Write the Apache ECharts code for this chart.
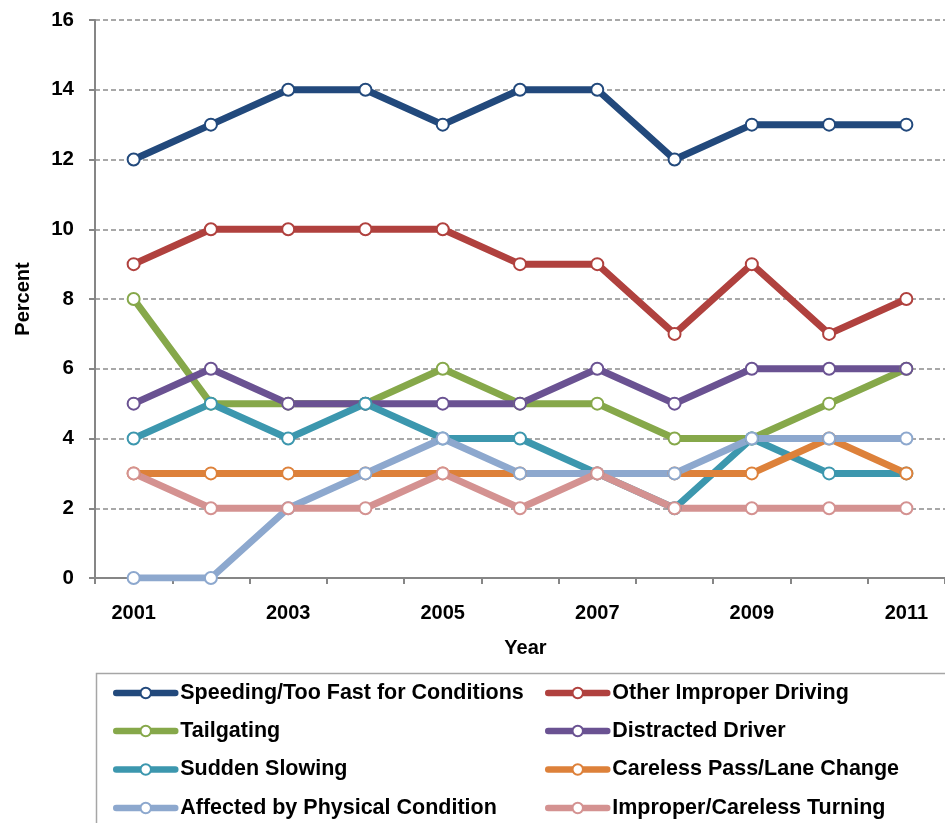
<!DOCTYPE html>
<html>
<head>
<meta charset="utf-8">
<script src="https://cdn.jsdelivr.net/npm/echarts@6/dist/echarts.min.js"></script>
<style>
  html, body { margin: 0; padding: 0; background: #fff; }
  #chart { width: 945px; height: 823px; }
</style>
</head>
<body>
<div id="chart"></div>
<script>
// Years on the x axis
const years = ['2001', '2002', '2003', '2004', '2005', '2006', '2007', '2008', '2009', '2010', '2011'];

// Share of crashes by contributing factor, percent
const speeding      = [12, 13, 14, 14, 13, 14, 14, 12, 13, 13, 13];
const otherImproper = [9, 10, 10, 10, 10, 9, 9, 7, 9, 7, 8];
const tailgating    = [8, 5, 5, 5, 6, 5, 5, 4, 4, 5, 6];
const distracted    = [5, 6, 5, 5, 5, 5, 6, 5, 6, 6, 6];
const suddenSlowing = [4, 5, 4, 5, 4, 4, 3, 2, 4, 3, 3];
const carelessPass  = [3, 3, 3, 3, 3, 3, 3, 3, 3, 4, 3];
const physicalCond  = [0, 0, 2, 3, 4, 3, 3, 3, 4, 4, 4];
const improperTurn  = [3, 2, 2, 2, 3, 2, 3, 2, 2, 2, 2];

const seriesNames = [
  'Speeding/Too Fast for Conditions',
  'Other Improper Driving',
  'Tailgating',
  'Distracted Driver',
  'Sudden Slowing',
  'Careless Pass/Lane Change',
  'Affected by Physical Condition',
  'Improper/Careless Turning'
];
const seriesValues = [speeding, otherImproper, tailgating, distracted,
                      suddenSlowing, carelessPass, physicalCond, improperTurn];
const colors = ['#22497c', '#b0413e', '#86a84a', '#6a5292',
                '#3c97ae', '#dd813a', '#8da8ce', '#d49291'];

const font = '"Liberation Sans", Arial, sans-serif';
const gray = '#868686';
const LINE_W = 7;

const chart = echarts.init(document.getElementById('chart'), null, { renderer: 'canvas' });

const series = seriesNames.map((name, i) => ({
  name: name,
  type: 'line',
  data: seriesValues[i],
  color: colors[i],
  symbol: 'circle',
  symbolSize: 12,
  showAllSymbol: true,
  lineStyle: { width: LINE_W, color: colors[i], cap: 'round', join: 'round' },
  itemStyle: { color: '#ffffff', borderColor: colors[i], borderWidth: 2 },
  emphasis: { disabled: true },
  animation: false
}));

// Legend: two columns of four entries inside a framed box below the plot
const legendText = { fontFamily: font, fontSize: 21.5, fontWeight: 'bold', color: '#000' };
const colLeft = [113, 545];
const rowCenter = [693, 731, 769.5, 808];
const legends = seriesNames.map((name, i) => ({
  data: [name],
  orient: 'horizontal',
  left: colLeft[i % 2],
  top: rowCenter[Math.floor(i / 2)] - 11,
  padding: 0,
  itemWidth: 59, itemHeight: 13,
  lineStyle: { width: 6.5 },
  itemStyle: { borderWidth: 2 },
  textStyle: legendText,
  selectedMode: false
}));

chart.setOption({
  backgroundColor: '#ffffff',
  animation: false,
  grid: { left: 95, top: 20, width: 859, height: 558, containLabel: false },
  legend: legends,
  graphic: [
    {
      type: 'rect',
      shape: { x: 96.5, y: 673.5, width: 900, height: 200 },
      style: { fill: 'none', stroke: '#a6a6a6', lineWidth: 1.5 },
      silent: true
    }
  ],
  xAxis: {
    type: 'category',
    data: years,
    boundaryGap: true,
    name: 'Year',
    nameLocation: 'middle',
    nameGap: 60,
    nameTextStyle: { fontFamily: font, fontSize: 20, fontWeight: 'bold', color: '#000', padding: [0, 0, 0, 11] },
    axisLine: { lineStyle: { color: gray, width: 2 } },
    axisTick: { show: true, interval: 0, length: 6, lineStyle: { color: gray, width: 2 } },
    axisLabel: { interval: 1, margin: 25, fontFamily: font, fontSize: 20, fontWeight: 'bold', color: '#000' },
    splitLine: { show: false }
  },
  yAxis: {
    type: 'value',
    min: 0, max: 16, interval: 2,
    name: 'Percent',
    nameLocation: 'middle',
    nameGap: 62,
    nameRotate: 90,
    nameTextStyle: { fontFamily: font, fontSize: 20, fontWeight: 'bold', color: '#000' },
    axisLine: { show: true, lineStyle: { color: gray, width: 2 } },
    axisTick: { show: true, length: 6, lineStyle: { color: gray, width: 2 } },
    axisLabel: { margin: 21, fontFamily: font, fontSize: 20.5, fontWeight: 'bold', color: '#000' },
    splitLine: { show: true, lineStyle: { color: '#8c8c8c', width: 1.5, type: [5, 3] } }
  },
  series: series
});
</script>
</body>
</html>
